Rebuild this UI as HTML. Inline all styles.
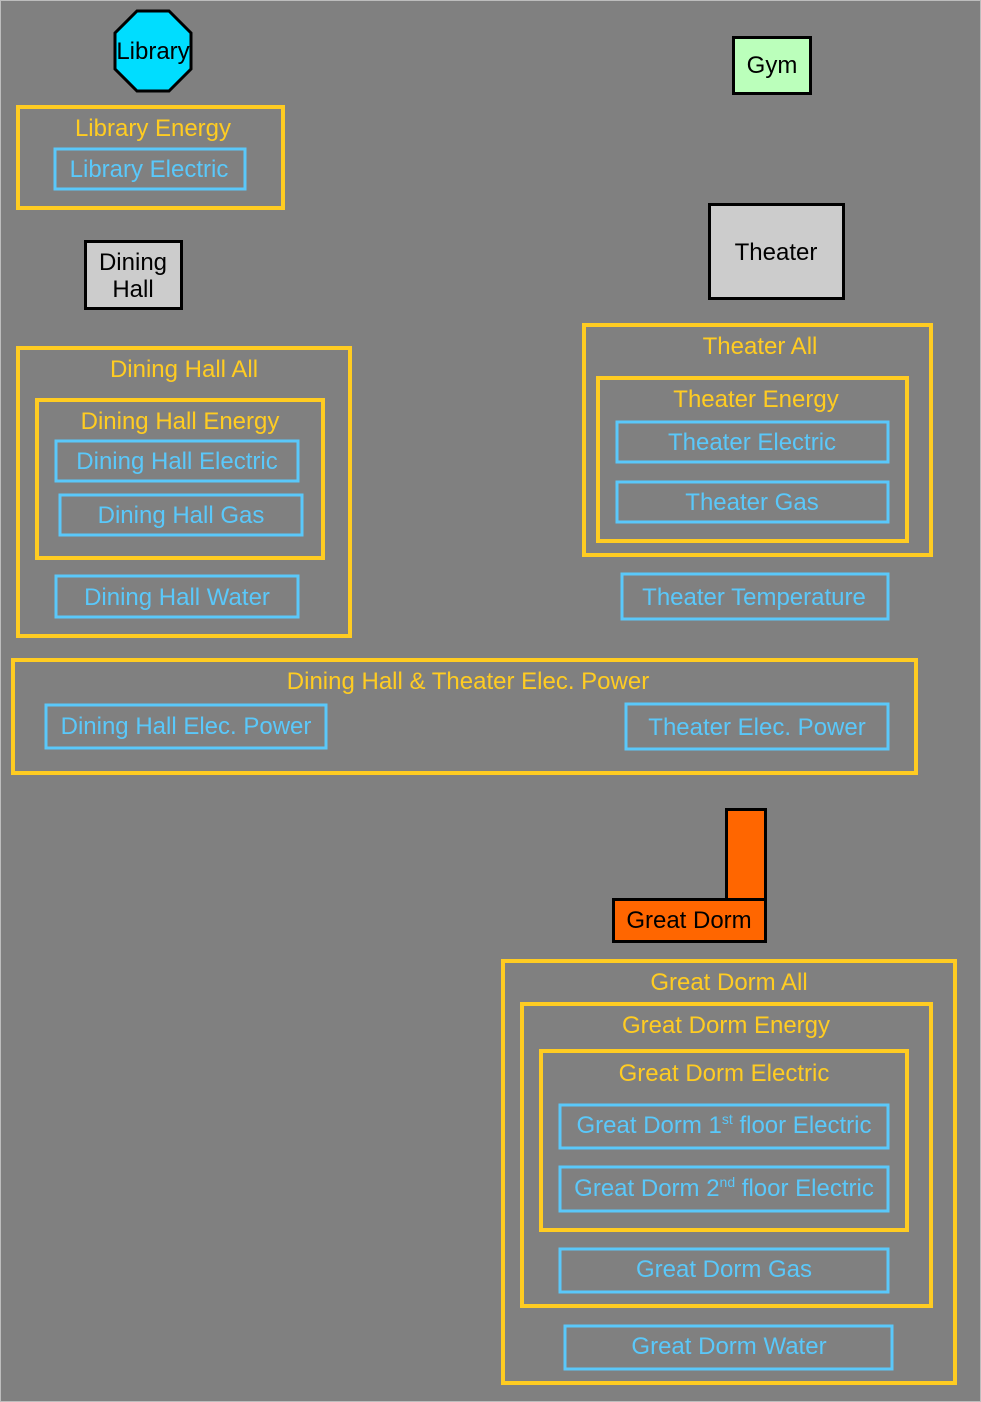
<!DOCTYPE html>
<html><head><meta charset="utf-8"><style>
html,body{margin:0;padding:0;background:#808080}
svg{display:block}
text{font-family:"Liberation Sans",Arial,sans-serif;font-size:24px;text-anchor:middle}
.y{fill:none;stroke:#ffcc22;stroke-width:4}
.b{fill:none;stroke:#5ac8fa;stroke-width:3}
.ty{fill:#ffcc22}
.tb{fill:#5ac8fa}
.k{stroke:#000;stroke-width:3}
</style></head><body>
<svg width="981" height="1402" viewBox="0 0 981 1402" xmlns="http://www.w3.org/2000/svg">
<rect x="0.5" y="0.5" width="980" height="1401" fill="#808080" stroke="#bdbdbd" stroke-width="1"/>

<polygon points="137,11 169,11 191,33 191,69 169,91 137,91 115,69 115,33" fill="#00ddff" class="k"/>
<text x="153" y="59" fill="#000" font-size="23">Library</text>

<rect x="18" y="107" width="265" height="101" class="y"/>
<text x="153" y="136" class="ty">Library Energy</text>
<rect x="55" y="149" width="190" height="40" class="b"/>
<text x="149" y="177" class="tb">Library Electric</text>

<rect x="733.5" y="37.5" width="77" height="56" fill="#bbffbb" class="k"/>
<text x="772" y="73" fill="#000">Gym</text>

<rect x="709.5" y="204.5" width="134" height="94" fill="#cccccc" class="k"/>
<text x="776" y="260" fill="#000">Theater</text>

<rect x="85.5" y="241.5" width="96" height="67" fill="#cccccc" class="k"/>
<text x="133" y="270" fill="#000">Dining</text>
<text x="133" y="297" fill="#000">Hall</text>

<rect x="18" y="348" width="332" height="288" class="y"/>
<text x="184" y="377" class="ty">Dining Hall All</text>
<rect x="37" y="400" width="286" height="158" class="y"/>
<text x="180" y="429" class="ty">Dining Hall Energy</text>
<rect x="56" y="441" width="242" height="40" class="b"/>
<text x="177" y="469" class="tb">Dining Hall Electric</text>
<rect x="60" y="495" width="242" height="40" class="b"/>
<text x="181" y="523" class="tb">Dining Hall Gas</text>
<rect x="56" y="576" width="242" height="41" class="b"/>
<text x="177" y="605" class="tb">Dining Hall Water</text>

<rect x="584" y="325" width="347" height="230" class="y"/>
<text x="760" y="354" class="ty">Theater All</text>
<rect x="598" y="378" width="309" height="163" class="y"/>
<text x="756" y="407" class="ty">Theater Energy</text>
<rect x="617" y="422" width="271" height="40" class="b"/>
<text x="752" y="450" class="tb">Theater Electric</text>
<rect x="617" y="482" width="271" height="40" class="b"/>
<text x="752" y="510" class="tb">Theater Gas</text>
<rect x="622" y="574" width="266" height="45" class="b"/>
<text x="754" y="605" class="tb">Theater Temperature</text>

<rect x="13" y="660" width="903" height="113" class="y"/>
<text x="468" y="689" class="ty">Dining Hall &amp; Theater Elec. Power</text>
<rect x="46" y="705" width="280" height="43" class="b"/>
<text x="186" y="734" class="tb">Dining Hall Elec. Power</text>
<rect x="626" y="704" width="262" height="45" class="b"/>
<text x="757" y="735" class="tb">Theater Elec. Power</text>

<rect x="726.5" y="809.5" width="39" height="90" fill="#ff6600" class="k"/>
<rect x="613.5" y="899.5" width="152" height="42" fill="#ff6600" class="k"/>
<text x="689" y="928" fill="#000">Great Dorm</text>

<rect x="503" y="961" width="452" height="422" class="y"/>
<text x="729" y="990" class="ty">Great Dorm All</text>
<rect x="522" y="1004" width="409" height="302" class="y"/>
<text x="726" y="1033" class="ty">Great Dorm Energy</text>
<rect x="541" y="1051" width="366" height="179" class="y"/>
<text x="724" y="1081" class="ty">Great Dorm Electric</text>
<rect x="560" y="1105" width="328" height="43" class="b"/>
<text x="724" y="1133" class="tb">Great Dorm 1<tspan font-size="14" dy="-9">st</tspan><tspan dy="9"> floor Electric</tspan></text>
<rect x="560" y="1167" width="328" height="44" class="b"/>
<text x="724" y="1196" class="tb">Great Dorm 2<tspan font-size="14" dy="-9">nd</tspan><tspan dy="9"> floor Electric</tspan></text>
<rect x="560" y="1249" width="328" height="43" class="b"/>
<text x="724" y="1277" class="tb">Great Dorm Gas</text>
<rect x="565" y="1326" width="327" height="43" class="b"/>
<text x="729" y="1354" class="tb">Great Dorm Water</text>
</svg>
</body></html>
